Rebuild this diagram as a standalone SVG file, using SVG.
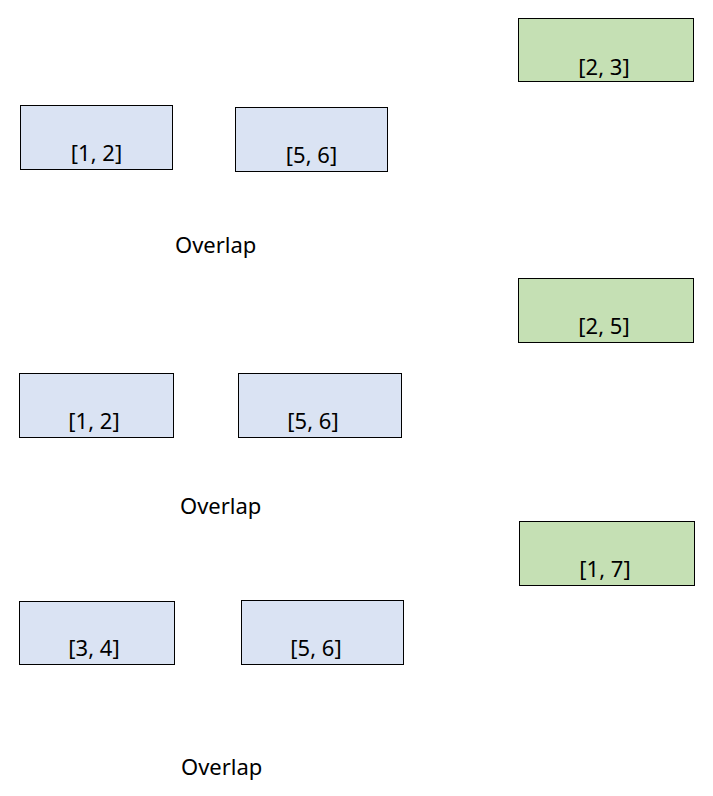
<svg xmlns="http://www.w3.org/2000/svg" width="713" height="796" viewBox="0 0 713 796">
<style>
.blue{fill:#dae3f3;stroke:#000;stroke-width:1}
.green{fill:#c5e0b4;stroke:#000;stroke-width:1}
text{font-family:"Noto Sans","Open Sans",sans-serif;font-size:22px;fill:#000;text-anchor:middle}
.lbl{text-anchor:start}
</style>
<rect width="713" height="796" fill="#fff"/>
<g id="g23"><rect class="green" x="518.5" y="18.5" width="175" height="63"/><text x="604" y="75">[2, 3]</text></g>
<g id="a12"><rect class="blue" x="20.5" y="105.5" width="152" height="64"/><text x="96.5" y="161">[1, 2]</text></g>
<g id="a56"><rect class="blue" x="235.5" y="107.5" width="152" height="64"/><text x="311.5" y="163">[5, 6]</text></g>
<g id="ov1"><text class="lbl" x="175" y="253">Overlap</text></g>

<g id="g25"><rect class="green" x="518.5" y="278.5" width="175" height="64"/><text x="604" y="334">[2, 5]</text></g>
<g id="b12"><rect class="blue" x="19.5" y="373.5" width="154" height="64"/><text x="94" y="429">[1, 2]</text></g>
<g id="b56"><rect class="blue" x="238.5" y="373.5" width="163" height="64"/><text x="313" y="429">[5, 6]</text></g>
<g id="ov2"><text class="lbl" x="180" y="514">Overlap</text></g>

<g id="g17"><rect class="green" x="519.5" y="521.5" width="175" height="64"/><text x="605" y="577">[1, 7]</text></g>
<g id="c34"><rect class="blue" x="19.5" y="601.5" width="155" height="63"/><text x="94" y="656">[3, 4]</text></g>
<g id="c56"><rect class="blue" x="241.5" y="600.5" width="162" height="64"/><text x="316" y="656">[5, 6]</text></g>
<g id="ov3"><text class="lbl" x="181" y="775">Overlap</text></g>
<g id="connectors"></g>
</svg>
